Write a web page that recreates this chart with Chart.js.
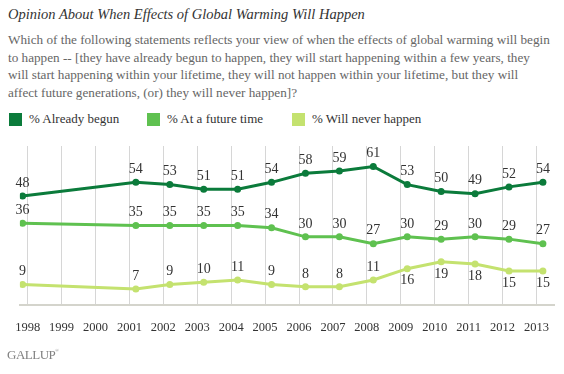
<!DOCTYPE html>
<html lang="en">
<head>
<meta charset="UTF-8">
<title>Opinion About When Effects of Global Warming Will Happen</title>
<script src="https://cdn.jsdelivr.net/npm/chart.js"></script>
<style>
    body { margin: 0; width: 564px; height: 374px; background: #fff; position: relative; overflow: hidden;
           font-family: "Liberation Serif", "DejaVu Serif", serif; }
    .title { position: absolute; left: 8px; top: 6px; font-size: 14.5px; font-style: italic; color: #333; white-space: nowrap; }
    .sub { position: absolute; left: 8px; top: 31px; font-size: 13.2px; line-height: 17.5px; color: #666; white-space: nowrap; }
    .legend { position: absolute; top: 111px; left: 0; font-size: 13px; color: #333; }
    .legend span.item { position: absolute; white-space: nowrap; }
    .legend i { position: absolute; width: 13px; height: 13px; top: 2px; left: 0; }
    .legend b { font-weight: normal; position: absolute; left: 20px; top: 0; }
    .chartBox { position: absolute; left: 0; top: 140px; width: 564px; height: 212px; }
    .logo { position: absolute; left: 7px; top: 347px; font-size: 13px; color: #808080; letter-spacing: -0.5px; }
    .logo sup { font-size: 5px; vertical-align: 7px; }
</style>
</head>
<body>
<div class="title">Opinion About When Effects of Global Warming Will Happen</div>
<div class="sub">Which of the following statements reflects your view of when the effects of global warming will begin<br>to happen -- [they have already begun to happen, they will start happening within a few years, they<br>will start happening within your lifetime, they will not happen within your lifetime, but they will<br>affect future generations, (or) they will never happen]?</div>
<div class="legend" id="legend"></div>
<div class="chartBox"><canvas id="chart"></canvas></div>
<div class="logo">GALLUP<sup>&reg;</sup></div>
<script>
    // poll dates as fractional years
    const pollDates = [1997.85, 2001.19, 2002.19, 2003.19, 2004.19, 2005.19, 2006.19, 2007.19, 2008.19, 2009.19, 2010.19, 2011.19, 2012.19, 2013.19];
    const tickYears = [1998, 1999, 2000, 2001, 2002, 2003, 2004, 2005, 2006, 2007, 2008, 2009, 2010, 2011, 2012, 2013];
    const seriesNames = ["% Already begun", "% At a future time", "% Will never happen"];
    const alreadyBegun = [48, 54, 53, 51, 51, 54, 58, 59, 61, 53, 50, 49, 52, 54];
    const futureTime = [36, 35, 35, 35, 35, 34, 30, 30, 27, 30, 29, 30, 29, 27];
    const neverHappen = [9, 7, 9, 10, 11, 9, 8, 8, 11, 16, 19, 18, 15, 15];

    const colors = ["#0b7b3b", "#5fc150", "#c4e26f"];
    const legendX = [9, 147, 292];

    // legend
    const legend = document.getElementById("legend");
    seriesNames.forEach((n, i) => {
        legend.innerHTML += `<span class="item" style="left:${legendX[i]}px"><i style="background:${colors[i]}"></i><b>${n}</b></span>`;
    });

    const allSeries = [alreadyBegun, futureTime, neverHappen];

    // value labels; last series puts them under the line from 2009 on
    const valueLabels = {
        id: "valueLabels",
        afterDatasetsDraw(chart) {
            const ctx = chart.ctx;
            ctx.save();
            ctx.font = "14px 'Liberation Serif', serif";
            ctx.fillStyle = "#333";
            ctx.textAlign = "center";
            ctx.textBaseline = "middle";
            chart.data.datasets.forEach((ds, di) => {
                chart.getDatasetMeta(di).data.forEach((pt, j) => {
                    const below = di === 2 && j >= 9;
                    ctx.fillText(ds.data[j].y, pt.x, below ? pt.y + 12 : pt.y - 13);
                });
            });
            ctx.restore();
        }
    };

    new Chart(document.getElementById("chart"), {
        type: "line",
        data: {
            datasets: allSeries.map((s, i) => ({
                label: seriesNames[i],
                data: s.map((v, j) => ({ x: pollDates[j], y: v })),
                borderColor: colors[i],
                backgroundColor: colors[i],
                borderWidth: 3,
                pointRadius: 3.5,
                pointBorderWidth: 0,
                tension: 0
            }))
        },
        options: {
            responsive: true,
            maintainAspectRatio: false,
            animation: false,
            events: [],
            layout: { padding: { left: 14, right: 7, top: 6, bottom: 2 } },
            plugins: { legend: { display: false }, tooltip: { enabled: false } },
            scales: {
                x: {
                    type: "linear",
                    min: 1997.77,
                    max: 2013.52,
                    afterBuildTicks: axis => { axis.ticks = tickYears.map(v => ({ value: v })); },
                    grid: { color: "#d6d6d6", lineWidth: 1, drawTicks: false },
                    border: { color: "#d4d4cc", width: 2 },
                    ticks: {
                        padding: 15,
                        color: "#333",
                        font: { family: "'Liberation Serif', serif", size: 12.5 },
                        callback: v => String(v),
                        maxRotation: 0,
                        autoSkip: false
                    }
                },
                y: { display: false, min: 0, max: 70 }
            }
        },
        plugins: [valueLabels]
    });
</script>
</body>
</html>
